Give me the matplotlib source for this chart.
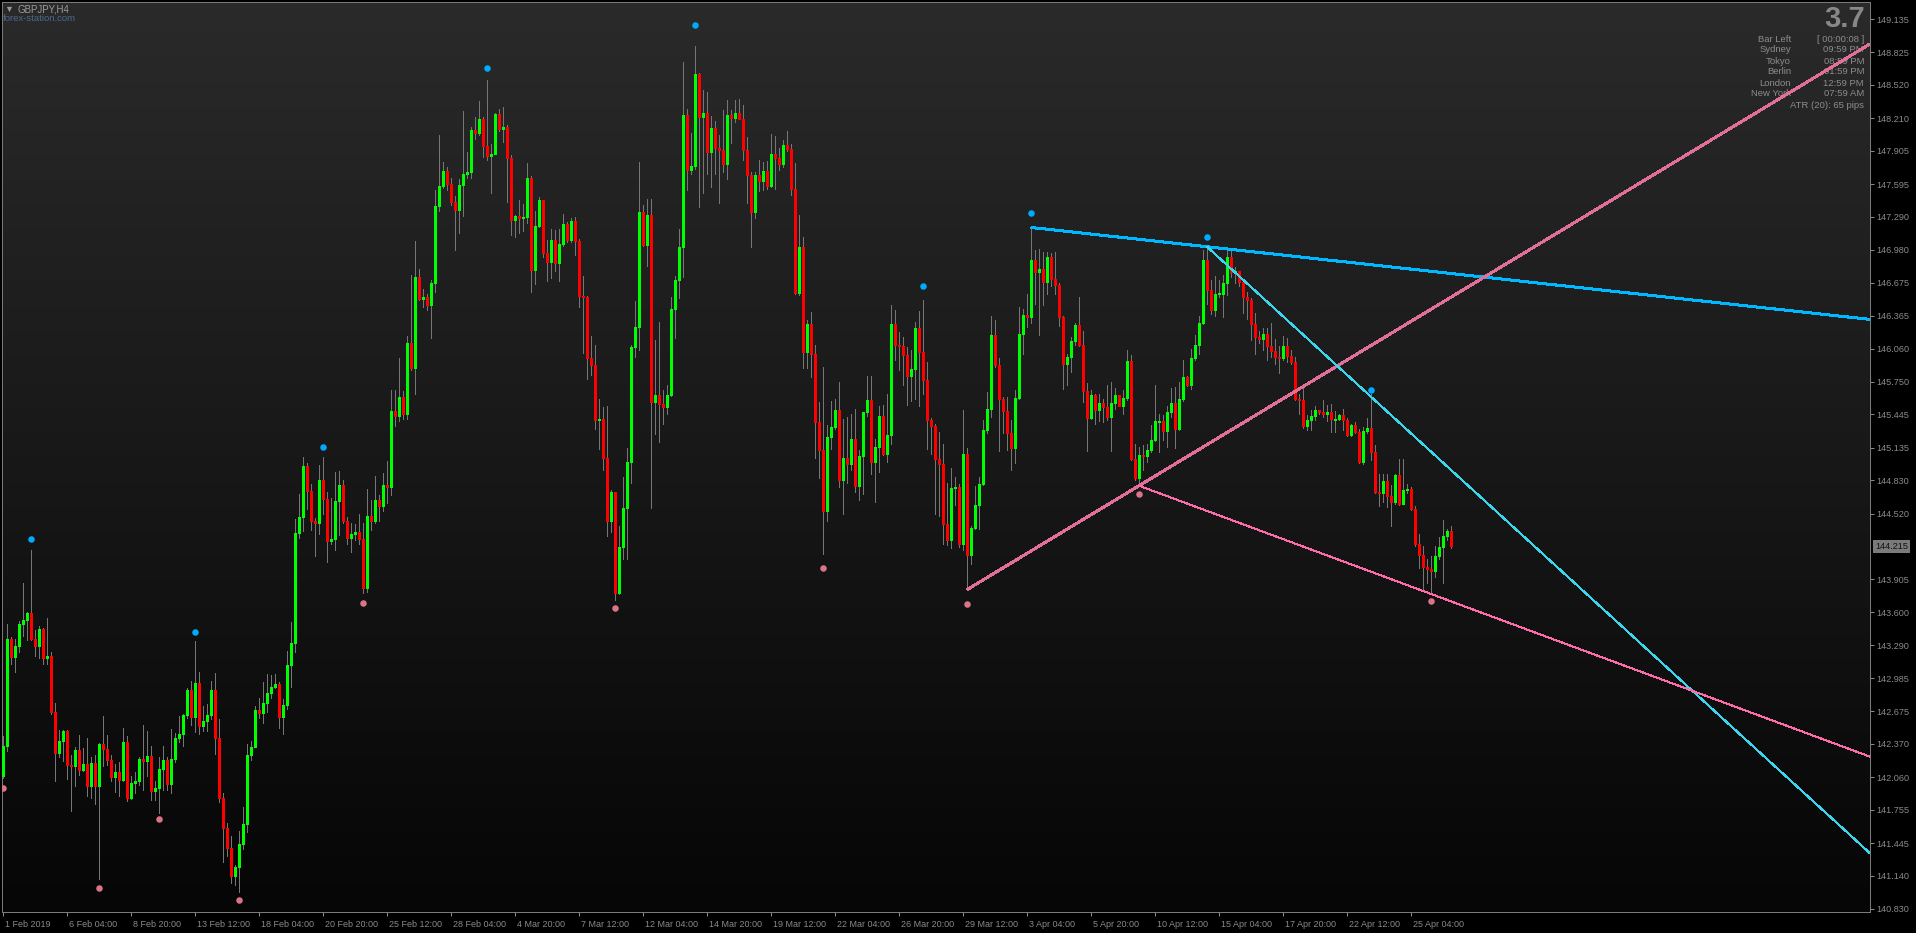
import numpy as np
import matplotlib
matplotlib.use("Agg")
import matplotlib.pyplot as plt
from matplotlib.colors import LinearSegmentedColormap
from matplotlib.transforms import ScaledTranslation, blended_transform_factory

plt.rcParams['font.family'] = ['Liberation Sans', 'DejaVu Sans']

# GBPJPY H4 - closes / highs / lows (bar 0 = 1 Feb 2019)
open0 = 142.07
close = [
    142.35, 143.35, 143.18, 143.28, 143.49, 143.53, 143.59, 143.35, 143.28, 143.44,  # 0
    143.17, 143.19, 142.67, 142.29, 142.40, 142.49, 142.17, 142.16, 142.31, 142.13,  # 10
    142.18, 141.98, 142.19, 141.98, 142.37, 142.32, 142.22, 142.06, 142.11, 142.03,  # 20
    142.39, 141.87, 142.01, 142.02, 142.23, 142.21, 142.26, 141.93, 141.96, 142.14,  # 30
    142.22, 142.00, 142.23, 142.43, 142.46, 142.64, 142.87, 142.62, 142.94, 142.54,  # 40
    142.58, 142.64, 142.87, 142.43, 141.87, 141.59, 141.40, 141.14, 141.22, 141.44,  # 50
    141.62, 142.27, 142.34, 142.69, 142.66, 142.75, 142.85, 142.90, 142.93, 142.62,  # 60
    142.73, 143.11, 143.31, 144.34, 144.49, 144.96, 144.73, 144.45, 144.43, 144.83,  # 70
    144.66, 144.26, 144.28, 144.64, 144.79, 144.45, 144.29, 144.33, 144.35, 144.28,  # 80
    143.83, 144.50, 144.45, 144.65, 144.59, 144.79, 144.77, 145.48, 145.43, 145.61,  # 90
    145.45, 146.11, 145.88, 146.73, 146.52, 146.54, 146.47, 146.67, 147.39, 147.58,  # 100
    147.72, 147.60, 147.43, 147.35, 147.59, 147.69, 147.71, 148.10, 148.07, 148.20,  # 110
    147.95, 147.86, 147.88, 148.25, 148.11, 148.13, 147.84, 147.26, 147.30, 147.28,  # 120
    147.29, 147.65, 146.79, 147.20, 147.45, 146.95, 146.87, 147.07, 146.86, 147.04,  # 130
    147.22, 147.07, 147.25, 147.06, 146.55, 146.54, 145.97, 145.91, 145.39, 145.40,  # 140
    145.04, 144.45, 144.72, 143.78, 144.21, 144.57, 145.00, 146.07, 146.26, 147.33,  # 150
    147.03, 147.31, 145.56, 145.63, 145.54, 145.51, 145.63, 146.43, 146.70, 147.01,  # 160
    148.24, 147.73, 147.76, 148.62, 148.22, 148.26, 147.89, 148.12, 147.93, 147.91,  # 170
    147.78, 148.24, 148.21, 148.26, 148.20, 147.91, 147.68, 147.33, 147.68, 147.62,  # 180
    147.72, 147.58, 147.88, 147.84, 147.78, 147.96, 147.92, 147.55, 146.58, 147.01,  # 190
    146.03, 146.29, 146.01, 145.37, 145.11, 144.54, 145.23, 145.33, 145.49, 144.83,  # 200
    145.04, 144.98, 145.22, 144.78, 145.06, 145.47, 145.58, 145.00, 145.14, 145.43,  # 210
    145.08, 145.25, 146.29, 146.09, 146.08, 146.00, 145.80, 145.87, 146.25, 146.03,  # 220
    145.77, 145.39, 145.34, 145.03, 144.98, 144.42, 144.27, 144.76, 144.77, 144.24,  # 230
    145.08, 144.13, 144.39, 144.60, 144.80, 145.30, 145.50, 146.19, 145.91, 145.59,  # 240
    145.48, 145.27, 145.13, 145.60, 146.20, 146.37, 146.35, 146.89, 146.77, 146.80,  # 250
    146.68, 146.91, 146.71, 146.65, 146.35, 145.92, 145.98, 146.13, 146.28, 146.09,  # 260
    145.66, 145.41, 145.63, 145.49, 145.55, 145.51, 145.42, 145.55, 145.63, 145.52,  # 270
    145.60, 145.94, 145.03, 144.85, 145.07, 145.06, 145.11, 145.21, 145.38, 145.38,  # 280
    145.29, 145.47, 145.55, 145.31, 145.59, 145.79, 145.72, 145.97, 146.09, 146.30,  # 290
    146.89, 146.61, 146.42, 146.57, 146.57, 146.67, 146.91, 146.77, 146.78, 146.68,  # 300
    146.54, 146.51, 146.29, 146.17, 146.15, 146.20, 146.08, 146.04, 145.98, 145.97,  # 310
    146.08, 145.99, 145.93, 145.59, 145.58, 145.34, 145.39, 145.43, 145.49, 145.47,  # 320
    145.45, 145.47, 145.40, 145.40, 145.44, 145.39, 145.25, 145.35, 145.28, 145.00,  # 330
    145.29, 145.32, 145.09, 144.72, 144.71, 144.82, 144.68, 144.63, 144.88, 144.61,  # 340
    144.74, 144.75, 144.56, 144.24, 144.13, 144.02, 144.00, 143.98, 144.12, 144.21,  # 350
    144.31, 144.36, 144.215,                                                         # 360
]
high = [
    142.44, 143.49, 143.37, 143.35, 143.52, 143.87, 143.60, 144.18, 143.43, 143.47,
    143.45, 143.55, 143.23, 142.75, 142.50, 142.50, 142.50, 142.27, 142.34, 142.45,
    142.33, 142.43, 142.25, 142.27, 142.38, 142.63, 142.45, 142.27, 142.18, 142.20,
    142.52, 142.44, 142.07, 142.11, 142.25, 142.55, 142.49, 142.35, 142.02, 142.25,
    142.35, 142.25, 142.51, 142.47, 142.63, 142.65, 142.89, 142.96, 143.33, 143.04,
    142.72, 142.74, 142.96, 143.03, 142.60, 141.91, 141.63, 141.51, 141.24, 141.56,
    141.78, 142.37, 142.40, 142.72, 142.80, 142.95, 143.02, 143.01, 143.02, 142.95,
    142.79, 143.24, 143.51, 144.47, 144.70, 145.05, 144.99, 144.80, 144.48, 144.97,
    145.05, 144.72, 144.67, 144.91, 144.92, 144.83, 144.49, 144.43, 144.42, 144.52,
    144.43, 144.75, 144.65, 144.87, 144.69, 144.90, 145.01, 145.67, 145.67, 145.97,
    145.66, 146.18, 146.75, 147.06, 146.80, 146.62, 146.57, 146.70, 147.54, 148.05,
    147.80, 147.75, 147.65, 147.48, 147.64, 148.28, 147.89, 148.13, 148.22, 148.37,
    148.22, 148.57, 147.97, 148.26, 148.30, 148.31, 148.15, 147.87, 147.31, 147.45,
    147.41, 147.79, 147.67, 147.34, 147.47, 147.45, 147.07, 147.18, 147.17, 147.18,
    147.32, 147.24, 147.28, 147.29, 147.08, 146.74, 146.55, 146.18, 146.09, 145.59,
    145.51, 145.52, 144.74, 144.40, 144.40, 144.86, 145.13, 146.09, 146.50, 147.80,
    147.40, 147.46, 147.46, 146.14, 146.31, 145.67, 145.72, 146.54, 146.74, 147.18,
    148.73, 148.30, 148.07, 148.88, 148.63, 148.47, 148.45, 148.23, 148.18, 148.05,
    148.29, 148.38, 148.29, 148.38, 148.39, 148.33, 148.03, 147.71, 147.71, 147.82,
    147.80, 147.81, 148.06, 148.04, 147.93, 148.01, 148.09, 147.97, 147.79, 147.31,
    147.10, 146.33, 146.40, 146.09, 145.56, 145.89, 145.35, 145.57, 145.59, 145.75,
    145.40, 145.42, 145.45, 145.50, 145.11, 145.47, 145.80, 145.80, 145.22, 145.52,
    145.53, 145.64, 146.47, 146.42, 146.21, 146.17, 146.07, 146.05, 146.31, 146.41,
    146.51, 145.93, 145.41, 145.36, 145.28, 145.17, 144.81, 144.95, 144.86, 144.80,
    145.49, 145.13, 144.40, 144.78, 144.86, 145.39, 145.65, 146.36, 146.33, 145.97,
    145.61, 145.61, 145.39, 145.67, 146.45, 146.43, 146.57, 147.18, 146.98, 146.99,
    146.96, 146.96, 146.95, 146.96, 146.67, 146.36, 146.01, 146.17, 146.30, 146.54,
    146.22, 145.74, 145.67, 145.64, 145.64, 145.59, 145.72, 145.75, 145.69, 145.61,
    145.67, 146.05, 146.00, 145.17, 145.14, 145.16, 145.17, 145.35, 145.72, 145.45,
    145.44, 145.52, 145.69, 145.70, 145.75, 145.95, 145.80, 146.06, 146.19, 146.36,
    146.98, 147.01, 146.70, 146.74, 146.70, 146.75, 146.98, 146.99, 146.82, 146.75,
    146.70, 146.59, 146.53, 146.39, 146.22, 146.25, 146.25, 146.30, 146.15, 146.08,
    146.18, 146.16, 146.05, 145.98, 145.64, 145.70, 145.44, 145.49, 145.52, 145.49,
    145.58, 145.53, 145.54, 145.48, 145.45, 145.50, 145.41, 145.36, 145.37, 145.31,
    145.33, 145.41, 145.64, 145.16, 144.89, 144.89, 144.89, 144.79, 144.89, 145.03,
    145.03, 144.80, 144.77, 144.59, 144.33, 144.22, 144.10, 144.12, 144.22, 144.30,
    144.46, 144.38, 144.40,
]
low = [
    142.05, 142.30, 143.12, 143.04, 143.23, 143.38, 143.34, 143.34, 143.19, 143.17,
    143.12, 143.12, 142.65, 142.02, 142.25, 142.21, 142.04, 141.74, 141.98, 142.08,
    142.12, 141.88, 141.87, 141.81, 141.11, 142.16, 142.17, 142.02, 141.92, 141.88,
    142.02, 141.84, 141.86, 141.91, 141.99, 141.94, 142.07, 141.85, 141.85, 141.73,
    141.94, 141.94, 141.91, 142.20, 142.39, 142.35, 142.61, 142.55, 142.48, 142.46,
    142.49, 142.49, 142.60, 142.28, 141.83, 141.27, 141.32, 141.07, 141.05, 140.99,
    141.39, 141.55, 142.22, 142.49, 142.61, 142.57, 142.67, 142.80, 142.89, 142.52,
    142.46, 142.70, 142.90, 143.23, 144.29, 144.36, 144.56, 144.37, 144.12, 144.33,
    144.52, 144.07, 144.24, 144.18, 144.32, 144.43, 144.24, 144.16, 144.27, 144.24,
    143.78, 143.79, 144.37, 144.43, 144.45, 144.54, 144.62, 144.69, 145.34, 145.38,
    145.40, 145.40, 145.86, 145.64, 146.51, 146.45, 146.42, 146.16, 146.59, 147.34,
    147.56, 147.54, 147.40, 146.98, 147.14, 147.30, 147.65, 147.65, 148.02, 148.05,
    147.85, 147.82, 147.51, 147.88, 148.09, 147.99, 147.43, 147.12, 147.10, 147.14,
    147.16, 147.23, 146.59, 146.66, 147.19, 146.91, 146.69, 146.72, 146.78, 146.69,
    147.02, 147.05, 147.05, 146.93, 146.45, 146.02, 145.78, 145.81, 145.31, 145.12,
    144.93, 144.31, 144.35, 143.71, 143.77, 144.10, 144.10, 144.81, 145.98, 146.05,
    147.02, 146.83, 144.57, 145.26, 145.19, 145.36, 145.45, 145.62, 146.16, 146.53,
    146.73, 147.54, 147.69, 147.74, 147.38, 147.51, 147.69, 147.57, 147.69, 147.42,
    147.71, 147.64, 147.98, 148.17, 148.20, 147.82, 147.42, 147.01, 147.28, 147.53,
    147.54, 147.55, 147.57, 147.55, 147.73, 147.75, 147.90, 147.49, 146.57, 146.56,
    145.88, 145.88, 145.79, 145.04, 144.85, 144.14, 144.45, 145.12, 145.31, 144.77,
    144.52, 144.81, 144.93, 144.72, 144.65, 144.70, 145.43, 144.89, 144.63, 144.91,
    145.07, 145.00, 145.17, 145.95, 145.86, 145.72, 145.53, 145.57, 145.59, 145.52,
    145.64, 145.12, 145.08, 144.52, 144.50, 144.24, 144.23, 144.20, 144.60, 144.21,
    144.18, 143.81, 144.05, 144.38, 144.38, 144.79, 145.27, 145.42, 145.89, 145.10,
    145.27, 145.11, 144.93, 144.99, 145.59, 146.01, 146.26, 146.30, 146.48, 146.19,
    146.47, 146.57, 146.64, 146.57, 146.27, 145.68, 145.72, 145.84, 146.09, 146.08,
    145.56, 145.10, 145.40, 145.36, 145.38, 145.37, 145.39, 145.10, 145.50, 145.52,
    145.45, 145.58, 145.02, 144.83, 144.78, 144.93, 145.00, 145.09, 145.20, 145.09,
    145.21, 145.14, 145.42, 145.13, 145.30, 145.57, 145.71, 145.68, 145.95, 146.01,
    146.29, 146.48, 146.38, 146.36, 146.54, 146.35, 146.56, 146.73, 146.67, 146.64,
    146.39, 146.34, 146.14, 146.01, 146.11, 146.05, 145.95, 145.98, 145.92, 145.83,
    145.95, 145.93, 145.92, 145.58, 145.45, 145.32, 145.30, 145.30, 145.39, 145.45,
    145.42, 145.38, 145.28, 145.28, 145.39, 145.30, 145.24, 145.24, 145.27, 144.99,
    144.98, 145.27, 145.02, 144.71, 144.59, 144.63, 144.58, 144.40, 144.61, 144.60,
    144.63, 144.71, 144.55, 144.22, 144.01, 143.82, 143.87, 143.77, 143.93, 144.10,
    143.87, 144.27, 144.20,
]

# fractal dots (bar, price)
frac_up_bar = [7, 48, 80, 121, 173, 230, 257, 301, 342]
frac_up_px = [144.283, 143.415, 145.142, 148.677, 149.075, 146.643, 147.327, 147.103, 145.672]
frac_dn_bar = [0, 24, 39, 59, 90, 153, 205, 241, 284, 357]
frac_dn_px = [141.958, 141.025, 141.669, 140.910, 143.685, 143.636, 144.011, 143.674, 144.703, 143.704]

# trendlines: two anchor points (bar, price), extended to the right edge
tl_blue = [(257, 147.19), (301, 147.01)]
tl_cyan = [(301, 147.01), (342, 145.61)]
tl_pink = [(241, 143.81), (284, 144.78)]
tl_pink_thin = [(284, 144.78), (357, 143.77)]

price_labels = ['149.135', '148.825', '148.520', '148.210', '147.905', '147.595', '147.290',
                '146.980', '146.675', '146.365', '146.060', '145.750', '145.445', '145.135',
                '144.830', '144.520', '143.905', '143.600', '143.290', '142.985', '142.675',
                '142.370', '142.060', '141.755', '141.445', '141.140', '140.830']
date_labels = ['1 Feb 2019', '6 Feb 04:00', '8 Feb 20:00', '13 Feb 12:00', '18 Feb 04:00',
               '20 Feb 20:00', '25 Feb 12:00', '28 Feb 04:00', '4 Mar 20:00', '7 Mar 12:00',
               '12 Mar 04:00', '14 Mar 20:00', '19 Mar 12:00', '22 Mar 04:00', '26 Mar 20:00',
               '29 Mar 12:00', '3 Apr 04:00', '5 Apr 20:00', '10 Apr 12:00', '15 Apr 04:00',
               '17 Apr 20:00', '22 Apr 12:00', '25 Apr 04:00']
last_price = 144.215

info_names = ['Bar Left', 'Sydney', 'Tokyo', 'Berlin', 'London', 'New York']
info_values = ['[ 00:00:08 ]', '09:59 PM', '08:59 PM', '01:59 PM', '12:59 PM', '07:59 AM']
atr_text = 'ATR (20): 65 pips'
spread_text = '3.7'

# ---------------------------------------------------------------
W, H = 1916, 933
X0, X1 = -0.25, 466.75
Y0, Y1 = 140.802, 149.294
GREY = '#8a8a8a'
PT = 0.72  # one pixel in points at dpi 100

fig = plt.figure(figsize=(W / 100, H / 100), dpi=100, facecolor='black')
ax = fig.add_axes([2 / W, 21 / H, 1868 / W, 910 / H])
ax.set_facecolor('black')

# background gradient
cmap = LinearSegmentedColormap.from_list('bg', ['#060606', '#2a2a2a'])
grad = np.linspace(1, 0, 256).reshape(-1, 1)
ax.imshow(grad, cmap=cmap, extent=[X0, X1, Y0, Y1], aspect='auto', zorder=0,
          interpolation='bilinear')

# candles
c = np.array(close)
o = np.r_[open0, c[:-1]]
hi = np.maximum(np.array(high), np.maximum(o, c))
lo = np.minimum(np.array(low), np.minimum(o, c))
x = np.arange(len(c))
up = c >= o
mid = (o + c) / 2
half = np.maximum(np.abs(c - o), 0.0095) / 2

ax.vlines(x, lo, hi, colors='#767676', linewidth=PT, antialiased=False, zorder=2)
ax.vlines(x[up], (mid - half)[up], (mid + half)[up], colors='#00ff00', linewidth=3 * PT,
          antialiased=False, zorder=3)
ax.vlines(x[~up], (mid - half)[~up], (mid + half)[~up], colors='#ff0000', linewidth=3 * PT,
          antialiased=False, zorder=3)


def ray(pts):
    (xa, ya), (xb, yb) = pts
    k = (yb - ya) / (xb - xa)
    return [xa, X1], [ya, ya + k * (X1 - xa)]


for pts, col, lw in [(tl_blue, '#00b8ff', 2 * PT), (tl_pink, '#e0709a', 2 * PT),
                     (tl_cyan, '#3ad6ee', PT), (tl_pink_thin, '#ff6aaa', PT)]:
    xs, ys = ray(pts)
    ax.plot(xs, ys, color=col, linewidth=lw, antialiased=False, zorder=5,
            solid_capstyle='butt')

ax.scatter(frac_up_bar, frac_up_px, s=22, color='#00aaff', linewidths=0, zorder=6)
ax.scatter(frac_dn_bar, frac_dn_px, s=22, color='#dc7488', linewidths=0, zorder=6)

ax.set_xlim(X0, X1)
ax.set_ylim(Y0, Y1)

# axes
for sp in ax.spines.values():
    sp.set_color('#7a7a7a')
    sp.set_linewidth(PT)

ax.yaxis.tick_right()
ax.set_yticks([float(v) for v in price_labels])
ax.set_yticklabels(price_labels)
ax.tick_params(axis='y', colors=GREY, length=3, width=PT, pad=1.5, labelsize=6.6)

ax.set_xticks(np.arange(0, 16 * len(date_labels), 16))
ax.set_xticklabels(date_labels)
ax.tick_params(axis='x', colors=GREY, length=3, width=PT, pad=3, labelsize=6.5)
shift = ScaledTranslation(2 / 100, 0, fig.dpi_scale_trans)
for t in ax.get_xticklabels():
    t.set_ha('left')
    t.set_transform(t.get_transform() + shift)

# current price box
trans = blended_transform_factory(ax.transAxes, ax.transData)
ax.text(1.0, last_price, f'{last_price:.3f}',
        transform=trans + ScaledTranslation(5 / 100, 0, fig.dpi_scale_trans),
        ha='left', va='center', fontsize=6.6, color='#111111', clip_on=False, zorder=10,
        bbox=dict(boxstyle='square,pad=0.2', fc='#7a7a7a', ec='none'))


def px(xp, yp):
    return xp / W, 1 - yp / H


# top-left caption
ax.text(*px(4, 9), '\u25bc', transform=fig.transFigure, fontsize=6.5, color='#9a9a9a',
        va='center', ha='left', zorder=1)
ax.text(*px(18, 9.5), 'GBPJPY,H4', transform=fig.transFigure, fontsize=7,
        color='#9a9a9a', va='center', ha='left', zorder=1)
ax.text(*px(3, 18.5), 'forex-station.com', transform=fig.transFigure, fontsize=6.8,
        color='#4e6a8c', va='center', ha='left', zorder=1)

# info panel top-right
ax.text(*px(1865, 19), spread_text, transform=fig.transFigure, fontsize=21,
        fontweight='bold', color='#888888', va='center', ha='right', zorder=1)
for i, (nm, val) in enumerate(zip(info_names, info_values)):
    yp = 39 + 11 * i
    ax.text(*px(1791, yp), nm, transform=fig.transFigure, fontsize=6.8, color='#8c8c8c',
            va='center', ha='right', zorder=1)
    ax.text(*px(1864, yp), val, transform=fig.transFigure, fontsize=6.8, color='#8c8c8c',
            va='center', ha='right', zorder=1)
ax.text(*px(1864, 105), atr_text, transform=fig.transFigure, fontsize=6.8, color='#8c8c8c',
        va='center', ha='right', zorder=1)

fig.savefig('out.png', dpi=100, facecolor='black')
